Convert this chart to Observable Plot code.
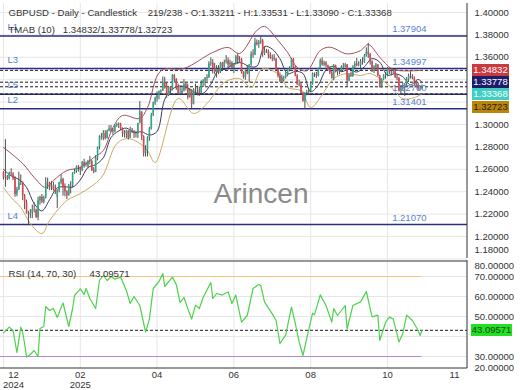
<!DOCTYPE html>
<html><head><meta charset="utf-8">
<script src="https://cdn.jsdelivr.net/npm/d3@7"></script>
<script src="https://cdn.jsdelivr.net/npm/@observablehq/plot@0.6"></script>
<style>
body{margin:0;background:#fff;}
#wrap{position:relative;width:520px;height:390px;overflow:hidden;background:#fff;font-family:"Liberation Sans",Arial,sans-serif;}
#wrap svg{position:absolute;left:0;}
.tag{position:absolute;left:472px;width:37px;height:12px;line-height:12px;font-size:9.5px;text-align:center;font-family:"Liberation Sans",Arial,sans-serif;}
</style></head><body><div id="wrap"></div>
<script>
// ---- data ----
const openP = [1.2570,1.2525,1.2530,1.2515,1.2565,1.2555,1.2515,1.2375,1.2420,1.2480,
1.2480,1.2365,1.2305,1.2205,1.2200,1.2210,1.2240,1.2235,1.2170,1.2320,
1.2350,1.2305,1.2345,1.2480,1.2475,1.2440,1.2450,1.2420,1.2350,1.2410,
1.2480,1.2510,1.2440,1.2400,1.2365,1.2450,1.2455,1.2560,1.2580,1.2620,
1.2615,1.2590,1.2660,1.2630,1.2630,1.2670,1.2670,1.2590,1.2575,1.2700,
1.2795,1.2890,1.2880,1.2920,1.2875,1.2940,1.2960,1.2950,1.2935,1.2990,
1.3000,1.3005,1.2960,1.2915,1.2920,1.2940,1.2880,1.2950,1.2940,1.2915,
1.2915,1.3010,1.3110,1.2890,1.2740,1.2770,1.2880,1.2960,1.3085,1.3190,
1.3230,1.3260,1.3290,1.3300,1.3375,1.3340,1.3260,1.3330,1.3310,1.3440,
1.3400,1.3325,1.3280,1.3280,1.3300,1.3360,1.3325,1.3240,1.3300,1.3180,
1.3310,1.3300,1.3300,1.3280,1.3365,1.3385,1.3410,1.3420,1.3540,1.3550,
1.3500,1.3465,1.3490,1.3460,1.3545,1.3510,1.3555,1.3570,1.3530,1.3550,
1.3500,1.3540,1.3610,1.3570,1.3575,1.3460,1.3420,1.3475,1.3450,1.3530,
1.3630,1.3620,1.3730,1.3715,1.3735,1.3745,1.3635,1.3655,1.3650,1.3615,
1.3595,1.3590,1.3580,1.3490,1.3430,1.3380,1.3415,1.3420,1.3440,1.3490,
1.3500,1.3580,1.3510,1.3435,1.3355,1.3350,1.3280,1.3205,1.3280,1.3285,
1.3295,1.3360,1.3450,1.3445,1.3430,1.3500,1.3570,1.3530,1.3550,1.3525,
1.3490,1.3460,1.3410,1.3525,1.3465,1.3480,1.3475,1.3505,1.3510,1.3530,
1.3390,1.3440,1.3430,1.3510,1.3540,1.3525,1.3530,1.3560,1.3555,1.3610,
1.3645,1.3625,1.3555,1.3470,1.3510,1.3530,1.3430,1.3335,1.3400,1.3435,
1.3445,1.3495,1.3470,1.3475,1.3480,1.3420,1.3410,1.3300,1.3320,1.3335,
1.3360,1.3400,1.3430,1.3430,1.3410,1.3380,1.3355,1.3320,1.33211];
const highP = [1.2580,1.2865,1.2545,1.2575,1.2605,1.2570,1.2535,1.2440,1.2575,1.2550,
1.2490,1.2375,1.2325,1.2225,1.2240,1.2280,1.2300,1.2245,1.2350,1.2360,
1.2375,1.2360,1.2525,1.2520,1.2485,1.2490,1.2485,1.2460,1.2420,1.2485,
1.2550,1.2520,1.2470,1.2410,1.2465,1.2490,1.2570,1.2600,1.2630,1.2635,
1.2620,1.2670,1.2690,1.2665,1.2680,1.2715,1.2680,1.2615,1.2720,1.2800,
1.2900,1.2920,1.2945,1.2945,1.2950,1.2990,1.2990,1.2965,1.2995,1.3010,
1.3015,1.3010,1.2970,1.2945,1.2950,1.2945,1.2975,1.2965,1.2945,1.2940,
1.3010,1.3205,1.3115,1.2900,1.2810,1.2890,1.2975,1.3100,1.3200,1.3245,
1.3290,1.3300,1.3310,1.3425,1.3420,1.3370,1.3340,1.3340,1.3445,1.3445,
1.3410,1.3360,1.3330,1.3325,1.3400,1.3375,1.3360,1.3320,1.3310,1.3320,
1.3360,1.3340,1.3335,1.3390,1.3400,1.3420,1.3445,1.3560,1.3595,1.3580,
1.3545,1.3525,1.3525,1.3555,1.3555,1.3575,1.3615,1.3595,1.3575,1.3560,
1.3545,1.3615,1.3630,1.3605,1.3590,1.3470,1.3485,1.3525,1.3535,1.3650,
1.3670,1.3770,1.3755,1.3750,1.3790,1.3760,1.3690,1.3670,1.3665,1.3640,
1.3620,1.3625,1.3590,1.3505,1.3460,1.3440,1.3430,1.3460,1.3500,1.3515,
1.3590,1.3590,1.3520,1.3445,1.3395,1.3370,1.3290,1.3285,1.3305,1.3315,
1.3375,1.3460,1.3460,1.3465,1.3505,1.3585,1.3595,1.3565,1.3560,1.3530,
1.3510,1.3475,1.3535,1.3530,1.3500,1.3495,1.3525,1.3545,1.3545,1.3535,
1.3450,1.3470,1.3525,1.3560,1.3590,1.3560,1.3580,1.3595,1.3625,1.3685,
1.3725,1.3635,1.3570,1.3525,1.3545,1.3535,1.3440,1.3410,1.3445,1.3465,
1.3510,1.3505,1.3490,1.3495,1.3490,1.3445,1.3420,1.3350,1.3370,1.3365,
1.3420,1.3450,1.3470,1.3445,1.3425,1.3390,1.3370,1.3345,1.33531];
const lowP = [1.2505,1.2440,1.2500,1.2505,1.2540,1.2500,1.2350,1.2355,1.2410,1.2455,
1.2320,1.2240,1.2200,1.2100,1.2160,1.2160,1.2210,1.2160,1.2140,1.2280,
1.2295,1.2290,1.2335,1.2420,1.2410,1.2410,1.2405,1.2375,1.2250,1.2390,
1.2460,1.2360,1.2355,1.2330,1.2360,1.2380,1.2435,1.2555,1.2565,1.2575,
1.2545,1.2580,1.2610,1.2620,1.2605,1.2640,1.2580,1.2560,1.2570,1.2675,
1.2775,1.2860,1.2855,1.2860,1.2870,1.2935,1.2930,1.2905,1.2925,1.2975,
1.2965,1.2945,1.2885,1.2880,1.2875,1.2860,1.2875,1.2920,1.2875,1.2880,
1.2875,1.3005,1.2855,1.2710,1.2710,1.2710,1.2850,1.2950,1.3070,1.3170,
1.3200,1.3220,1.3270,1.3295,1.3315,1.3235,1.3250,1.3265,1.3300,1.3370,
1.3305,1.3265,1.3260,1.3260,1.3290,1.3300,1.3220,1.3235,1.3140,1.3175,
1.3270,1.3255,1.3250,1.3270,1.3330,1.3340,1.3380,1.3410,1.3520,1.3450,
1.3445,1.3415,1.3445,1.3455,1.3490,1.3505,1.3540,1.3485,1.3510,1.3490,
1.3455,1.3530,1.3535,1.3550,1.3450,1.3405,1.3395,1.3445,1.3370,1.3520,
1.3590,1.3615,1.3700,1.3680,1.3715,1.3600,1.3615,1.3635,1.3585,1.3580,
1.3560,1.3565,1.3470,1.3415,1.3380,1.3365,1.3380,1.3405,1.3425,1.3470,
1.3490,1.3495,1.3425,1.3350,1.3335,1.3270,1.3200,1.3140,1.3255,1.3260,
1.3285,1.3350,1.3420,1.3410,1.3425,1.3490,1.3520,1.3515,1.3505,1.3475,
1.3445,1.3405,1.3390,1.3460,1.3435,1.3445,1.3465,1.3485,1.3505,1.3335,
1.3380,1.3420,1.3420,1.3500,1.3515,1.3515,1.3500,1.3530,1.3545,1.3600,
1.3590,1.3530,1.3465,1.3455,1.3485,1.3425,1.3325,1.3325,1.3395,1.3405,
1.3425,1.3445,1.3435,1.3450,1.3410,1.3390,1.3290,1.3260,1.3305,1.3250,
1.3330,1.3375,1.3405,1.3400,1.3345,1.3330,1.3300,1.3300,1.33090];
const closeP = [1.2525,1.2530,1.2515,1.2565,1.2555,1.2515,1.2375,1.2420,1.2480,1.2480,
1.2365,1.2305,1.2205,1.2200,1.2210,1.2240,1.2235,1.2170,1.2320,1.2350,
1.2305,1.2345,1.2480,1.2475,1.2440,1.2450,1.2420,1.2395,1.2410,1.2480,
1.2510,1.2440,1.2400,1.2365,1.2450,1.2455,1.2560,1.2580,1.2620,1.2615,
1.2590,1.2660,1.2630,1.2630,1.2670,1.2670,1.2590,1.2575,1.2700,1.2795,
1.2890,1.2880,1.2920,1.2875,1.2940,1.2960,1.2950,1.2935,1.2990,1.3000,
1.3005,1.2960,1.2915,1.2920,1.2940,1.2880,1.2950,1.2940,1.2915,1.2915,
1.3010,1.3110,1.2890,1.2740,1.2770,1.2880,1.2960,1.3085,1.3190,1.3230,
1.3260,1.3290,1.3300,1.3375,1.3340,1.3260,1.3330,1.3310,1.3440,1.3400,
1.3325,1.3280,1.3280,1.3300,1.3360,1.3325,1.3240,1.3300,1.3180,1.3310,
1.3300,1.3300,1.3280,1.3365,1.3385,1.3410,1.3420,1.3540,1.3550,1.3500,
1.3465,1.3490,1.3460,1.3545,1.3510,1.3555,1.3570,1.3530,1.3550,1.3500,
1.3540,1.3610,1.3570,1.3575,1.3460,1.3420,1.3475,1.3450,1.3530,1.3630,
1.3620,1.3730,1.3715,1.3735,1.3745,1.3635,1.3655,1.3650,1.3615,1.3595,
1.3590,1.3580,1.3490,1.3430,1.3380,1.3415,1.3420,1.3440,1.3490,1.3500,
1.3580,1.3510,1.3435,1.3355,1.3350,1.3280,1.3205,1.3280,1.3285,1.3295,
1.3360,1.3450,1.3445,1.3430,1.3500,1.3570,1.3530,1.3550,1.3525,1.3490,
1.3460,1.3410,1.3525,1.3465,1.3480,1.3475,1.3505,1.3510,1.3530,1.3390,
1.3440,1.3430,1.3510,1.3540,1.3525,1.3530,1.3560,1.3555,1.3610,1.3645,
1.3625,1.3555,1.3470,1.3510,1.3530,1.3430,1.3335,1.3400,1.3435,1.3445,
1.3495,1.3470,1.3475,1.3480,1.3420,1.3410,1.3300,1.3320,1.3335,1.3360,
1.3400,1.3430,1.3430,1.3410,1.3380,1.3355,1.3320,1.3321,1.33368];

// TMAB(10) bands, read at sampled bars
const upperIdx = [0,10,16,22,26,33,40,47,52,57,62,71,75,82,94,109,117,123,132,136,143,148,153,158,165,170,179,186,190,196,202,207,218];
const upperVal = [1.2795,1.2652,1.2527,1.2437,1.2500,1.2589,1.2616,1.2705,1.2768,1.2973,1.3080,1.3054,1.3150,1.3480,1.3500,1.3643,1.3687,1.3634,1.3840,1.3875,1.3750,1.3643,1.3510,1.3480,1.3660,1.3690,1.3630,1.3660,1.3714,1.3600,1.3500,1.3480,1.34832];
const midIdx = [0,4,8,12,16,20,24,28,32,36,40,44,48,52,56,60,64,68,72,76,80,84,88,92,96,100,104,108,112,116,120,124,128,132,136,140,144,148,152,156,160,164,168,172,176,180,184,188,192,196,200,204,208,212,216,218];
const midVal = [1.2600,1.2541,1.2509,1.2439,1.2294,1.2229,1.2328,1.2435,1.2444,1.2441,1.2505,1.2616,1.2642,1.2703,1.2883,1.2942,1.2968,1.2928,1.2935,1.2906,1.2938,1.3226,1.3316,1.3344,1.3324,1.3284,1.3278,1.3360,1.3481,1.3495,1.3543,1.3550,1.3518,1.3521,1.3696,1.3673,1.3587,1.3453,1.3474,1.3455,1.3293,1.3353,1.3488,1.3521,1.3472,1.3494,1.3468,1.3516,1.3588,1.3556,1.3440,1.3453,1.3426,1.3354,1.3402,1.33778];
const lowerIdx = [0,4,9,14,20,24,33,40,51,59,65,71,75,79,91,99,106,115,123,129,135,144,148,155,160,165,172,179,186,191,196,202,208,214,218];
const lowerVal = [1.2437,1.2348,1.2260,1.2116,1.2027,1.2143,1.2321,1.2384,1.2527,1.2830,1.2875,1.2830,1.2768,1.2661,1.3232,1.3098,1.3187,1.3375,1.3410,1.3330,1.3500,1.3437,1.3330,1.3300,1.3150,1.3240,1.3410,1.3455,1.3437,1.3455,1.3410,1.3330,1.3230,1.3240,1.32723];

// RSI(14) read at sampled bars
const rsiIdx = [0,3,5,7,9,10,11,12,14,16,18,19,21,22,24,26,28,31,34,36,37,40,42,43,45,48,50,52,54,56,58,61,64,66,68,70,71,74,76,78,81,83,84,88,90,92,94,96,98,100,102,104,108,109,111,114,117,119,121,124,127,130,133,134,136,140,142,144,147,150,152,154,156,158,161,162,165,168,171,172,174,178,179,182,186,189,192,195,196,199,201,203,206,208,210,213,216,217,218];
const rsiVal = [41.8,44.7,43,32,44.7,42,36.5,29.7,31,33,30,44,45,55,53,54,49.5,56.8,45,54,60.5,63.8,61,64,59,54,68,70.5,68,70,68.7,69.7,63,56.5,60,57,55.5,42.2,48.7,64,67.5,71.5,65,69.7,66,57,59.5,54,48.7,55.7,54,59.5,67,59,61.5,60.7,62.3,56.5,60.7,47.2,50.5,64,66,65.5,57.2,51.3,48,36.5,40.7,54.7,46.5,37.3,30.5,39.2,51.7,50.8,60.8,55.5,47.2,54,50.5,55.5,43.8,55.5,57.3,62.5,49.8,50.7,38,47,49.7,48.8,37.3,41.5,50.7,48,43,40.5,43.1];

const levelVals = [1.37904,1.34997,1.32700,1.31401,1.21070];
const levelNames = ["L1","L3","L5","L2","L4"];
const tmabVals = [1.34832,1.33778,1.32723];
const lastClose = 1.33368;
const rsiLast = 43.09571;
const priceTicks = [1.40,1.38,1.36,1.34,1.32,1.30,1.28,1.26,1.24,1.22,1.20,1.18];
const rsiTicks = [80,70,60,50,40,30,20];
const rsiGrid = [30,40,50,60,70];
const xTickIdx = [0,40,80,120,160,200,240];
const xTickMonth = ["12","02","04","06","08","10","11"];
const xTickYear = ["2024","2025","","","","",""];
const headerText = "GBPUSD - Daily - Candlestick\u00a0\u00a0\u00a0\u00a0219/238 - O:1.33211 - H:1.33531 - L:1.33090 - C:1.33368";
const tmabText = "TMAB (10)\u00a0\u00a0\u00a01.34832/1.33778/1.32723";
const rsiText = "RSI (14, 70, 30)\u00a0\u00a0\u00a0\u00a0\u00a043.09571";

// ---- build ----
const FONT = "Liberation Sans, Arial, sans-serif";
const UP = "#2ea88c", DOWN = "#e2444e", WICK = "#505050";
const bars = closeP.map((c, i) => ({i, o: openP[i], h: highP[i], l: lowP[i], c}));
const upBars = bars.filter(d => d.c >= d.o), downBars = bars.filter(d => d.c < d.o);
const toPts = (idx, val) => idx.map((x, k) => ({x, y: val[k]}));
const xDom = [-1.56, 241.7];
const plotW = 467;
const pxToIdx = px => xDom[0] + px * (xDom[1] - xDom[0]) / plotW;
const priceDom = [1.1804, 1.4080];
const rsiDom = [24, 78];
const lastIdx = closeP.length - 1;

// layout of the right-hand value tags (stacked so they do not overlap)
const MAIN_H = 260, MAIN_MT = 3, MAIN_MB = 2, RSI_H = 130, RSI_MB = 22;
const yPx = d3.scaleLinear(priceDom, [MAIN_H - MAIN_MB, MAIN_MT]);
const rPx = d3.scaleLinear(rsiDom, [RSI_H - RSI_MB, 0]);
const tagVals = [tmabVals[0], tmabVals[1], lastClose, tmabVals[2]];
const tagBg = ["#c9393e", "#1d1d6b", "#3fcfc0", "#b8860b"];
const tagFg = ["#ffffff", "#ffffff", "#ffffff", "#2b1c00"];
const tagTops = [];
let prevBottom = -Infinity;
tagVals.forEach(v => {
  let top = yPx(v) - 6;
  if (top < prevBottom + 0.3) top = prevBottom + 0.3;
  prevBottom = top + 12;
  tagTops.push(top);
});
const priceLabels = priceTicks.filter(t => tagTops.every(top => Math.abs(yPx(t) - (top + 6)) > 9));
const rsiClamp = d => Math.min(Math.max(d, rsiDom[0] + 0.5), rsiDom[1] - 2.5);
const rsiTagTop = rPx(rsiLast) - 6;
const rsiLabels = rsiTicks.filter(t => Math.abs(rPx(rsiClamp(t)) - (rsiTagTop + 6)) > 8);

const main = Plot.plot({
  width: 520, height: MAIN_H,
  marginLeft: 0, marginRight: 53, marginTop: MAIN_MT, marginBottom: MAIN_MB,
  x: {domain: xDom, axis: null},
  y: {domain: priceDom, axis: null},
  style: {fontFamily: FONT, fontSize: "9.5px", background: "transparent", overflow: "visible"},
  marks: [
    Plot.ruleY(priceTicks, {stroke: "#e6e6e6"}),
    Plot.ruleX(xTickIdx.slice(0, 6), {stroke: "#e6e6e6"}),
    Plot.text(["Arincen"], {frameAnchor: "middle", dx: 27, dy: 63, fontSize: 28, fill: "#8a8a8a"}),
    Plot.ruleY(levelVals, {stroke: "#2d2d80", strokeWidth: 1.5}),
    Plot.ruleY([...tmabVals, lastClose], {stroke: "#1a1a1a", strokeDasharray: "3,2"}),
    Plot.line(toPts(upperIdx, upperVal), {x: "x", y: "y", stroke: "#a0505c", strokeWidth: 1, curve: "catmull-rom"}),
    Plot.line(toPts(lowerIdx, lowerVal), {x: "x", y: "y", stroke: "#c9ab62", strokeWidth: 1, curve: "catmull-rom"}),
    Plot.line(toPts(midIdx, midVal), {x: "x", y: "y", stroke: "#3c3c58", strokeWidth: 1, curve: "catmull-rom"}),
    Plot.ruleX(bars, {x: "i", y1: "l", y2: "h", stroke: WICK, strokeWidth: 1}),
    Plot.ruleX(upBars, {x: "i", y1: "o", y2: "c", stroke: UP, strokeWidth: 1.6}),
    Plot.ruleX(downBars, {x: "i", y1: "o", y2: "c", stroke: DOWN, strokeWidth: 1.6}),
    Plot.text(levelVals, {y: d => d, text: (d, i) => levelNames[i], frameAnchor: "left", textAnchor: "start", dx: 7, dy: -9, fill: "#5b7fd1", fontSize: 9.5}),
    Plot.text(levelVals, {y: d => d, text: d => d.toFixed(5), frameAnchor: "right", textAnchor: "end", dx: -41, dy: -6.5, fill: "#5b7fd1", fontSize: 9.5}),
    Plot.text([headerText], {frameAnchor: "top-left", lineAnchor: "middle", dx: 8, dy: 9.7, fill: "#333", fontSize: 9.6}),
    Plot.text([tmabText], {frameAnchor: "top-left", lineAnchor: "middle", dx: 8, dy: 26.3, fill: "#333", fontSize: 9.6}),
    Plot.ruleX([xDom[1]], {stroke: "#333", dx: -0.5}),
    Plot.text(priceLabels, {y: d => Math.max(d, priceDom[0] + 0.0072), text: d => d.toFixed(5), frameAnchor: "right", textAnchor: "start", dx: 7, fill: "#333", fontSize: 9.5})
  ]
});

const rsi = Plot.plot({
  width: 520, height: RSI_H,
  marginLeft: 0, marginRight: 53, marginTop: 0, marginBottom: RSI_MB,
  x: {domain: xDom, axis: null},
  y: {domain: rsiDom, axis: null},
  style: {fontFamily: FONT, fontSize: "9.5px", background: "transparent", overflow: "visible"},
  marks: [
    Plot.ruleY(rsiGrid, {stroke: "#e6e6e6"}),
    Plot.ruleX(xTickIdx.slice(0, 6), {stroke: "#e6e6e6"}),
    Plot.ruleY([70], {x1: xDom[0], x2: lastIdx, stroke: "#f3c47c", strokeWidth: 1.2}),
    Plot.ruleY([30], {x1: xDom[0], x2: lastIdx, stroke: "#b48ae0", strokeWidth: 1.2}),
    Plot.ruleY([rsiLast], {stroke: "#1a1a1a", strokeDasharray: "3,2"}),
    Plot.line(toPts(rsiIdx, rsiVal), {x: "x", y: "y", stroke: "#4cd24c", strokeWidth: 1.2}),
    Plot.text([rsiText], {frameAnchor: "top-left", lineAnchor: "middle", dx: 8, dy: 13, fill: "#333", fontSize: 9.6}),
    Plot.ruleY([rsiDom[1]], {stroke: "#333", dy: 0.5}),
    Plot.ruleY([rsiDom[0]], {stroke: "#333", dy: -0.5}),
    Plot.ruleX([xDom[1]], {stroke: "#333", dx: -0.5}),
    Plot.text(rsiLabels, {y: rsiClamp, text: d => d.toFixed(5), frameAnchor: "right", textAnchor: "start", dx: 7, fill: "#333", fontSize: 9.5}),
    Plot.text(xTickIdx, {x: d => Math.min(Math.max(d, pxToIdx(13)), pxToIdx(454)), text: (d, i) => xTickMonth[i], frameAnchor: "bottom", lineAnchor: "middle", dy: 6, fill: "#333", fontSize: 9.5}),
    Plot.text(xTickIdx, {x: d => Math.min(Math.max(d, pxToIdx(13)), pxToIdx(454)), text: (d, i) => xTickYear[i], frameAnchor: "bottom", lineAnchor: "middle", dy: 16, fill: "#333", fontSize: 9.5})
  ]
});

const wrap = document.getElementById("wrap");
main.style.top = "0px";
rsi.style.top = MAIN_H + "px";
wrap.appendChild(main);
wrap.appendChild(rsi);

tagVals.forEach((v, k) => {
  const el = document.createElement("div");
  el.className = "tag";
  el.style.top = tagTops[k] + "px";
  el.style.background = tagBg[k];
  el.style.color = tagFg[k];
  el.textContent = v.toFixed(5);
  wrap.appendChild(el);
});
const rt = document.createElement("div");
rt.className = "tag";
rt.style.top = (MAIN_H + rsiTagTop) + "px";
rt.style.left = "471px";
rt.style.width = "41px";
rt.style.background = "#22e022";
rt.style.color = "#114411";
rt.textContent = rsiLast.toFixed(5);
wrap.appendChild(rt);
</script></body></html>
